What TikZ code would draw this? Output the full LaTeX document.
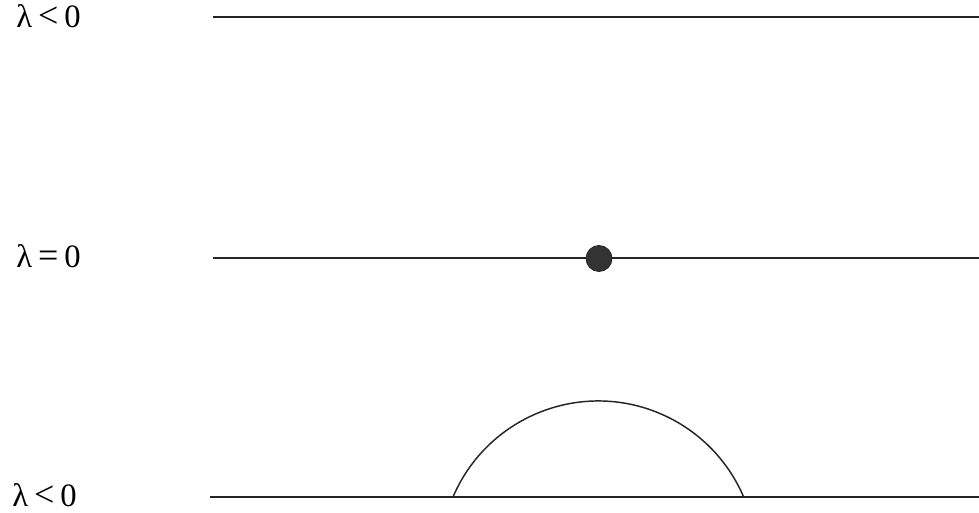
\documentclass[tikz,border=0pt]{standalone}
\usepackage{fontspec}
\setmainfont{Liberation Serif}
\begin{document}
\begin{tikzpicture}[x=0.75pt,y=-0.75pt,
  lbl/.style={anchor=base west,inner sep=0pt,text depth=0pt,font=\fontsize{24.5}{29}\selectfont},
  axisline/.style={line width=1.1pt,draw=black!85},
  dotnode/.style={circle,fill=black!80,draw=black!85,line width=0.6pt,minimum size=19.5pt,inner sep=0pt}]
\useasboundingbox (0,0) rectangle (979,513);
% labels
\node[lbl] (l1) at (16,28) {λ\kern4.5pt{\fontsize{27}{29}\selectfont<}\kern4.5pt0};
\node[lbl] (l2) at (16,268) {λ\kern4.5pt{\fontsize{27}{29}\selectfont=}\kern4.5pt0};
\node[lbl] (l3) at (12,507) {λ\kern4.5pt{\fontsize{27}{29}\selectfont<}\kern4.5pt0};
% lines
\coordinate (a1) at (213,17);
\coordinate (b1) at (979,17);
\coordinate (a2) at (213,258);
\coordinate (b2) at (979,258);
\coordinate (a3) at (210,497);
\coordinate (b3) at (979,497);
\draw[axisline] (a1) -- (b1);
\draw[axisline] (a2) -- (b2);
\draw[axisline] (a3) -- (b3);
% dot
\node[dotnode] (dot) at (599,258.5) {};
% arc
\coordinate (arcL) at (453,497);
\draw[axisline] (arcL) arc[start angle=156.9,end angle=23.1,radius=118.5pt];
\end{tikzpicture}
\end{document}
